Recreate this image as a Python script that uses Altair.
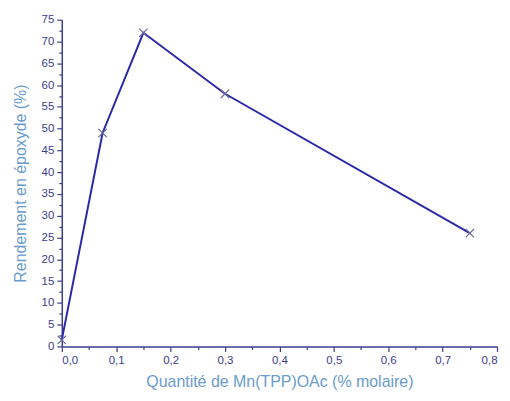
import altair as alt
import pandas as pd

quantite = [0.0, 0.075, 0.15, 0.3, 0.75]
rendement = [1.5, 49, 72, 58, 26]

x_major = [0, 0.1, 0.2, 0.3, 0.4, 0.5, 0.6, 0.7, 0.8]
x_minor = [0.05, 0.15, 0.25, 0.35, 0.45, 0.55, 0.65, 0.75]
y_major = list(range(0, 80, 5))
y_minor = [2.5 + 5 * i for i in range(15)]

df = pd.DataFrame({"q": quantite, "r": rendement})

axis_col = "#3d3d8f"
title_col = "#6a9bcc"
font = "Liberation Sans"

xs = alt.Scale(domain=[0, 0.8], nice=False, zero=False)
ys = alt.Scale(domain=[0, 75], nice=False)

x = alt.X("q:Q", scale=xs,
          axis=alt.Axis(title="Quantité de Mn(TPP)OAc (% molaire)", orient="bottom",
                        values=x_major,
                        labelExpr="replace(format(datum.value, '.1f'), '.', ',')",
                        grid=False, domainColor=axis_col, domainWidth=1.5,
                        tickColor=axis_col, tickSize=5, tickWidth=1.2,
                        labelColor=axis_col, labelFontSize=11.5, labelFont=font,
                        labelPadding=3,
                        titleColor=title_col, titleFontSize=16, titleFont=font,
                        titleFontWeight="normal", titlePadding=8))
y = alt.Y("r:Q", scale=ys,
          axis=alt.Axis(title="Rendement en époxyde (%)", orient="left",
                        values=y_major,
                        grid=False, domainColor=axis_col, domainWidth=1.5,
                        tickColor=axis_col, tickSize=5, tickWidth=1.2,
                        labelColor=axis_col, labelFontSize=11.5, labelFont=font,
                        labelPadding=3,
                        titleColor=title_col, titleFontSize=16, titleFont=font,
                        titleFontWeight="normal", titlePadding=13))

xm = alt.X("q:Q", scale=xs,
           axis=alt.Axis(title=None, orient="bottom", values=x_minor, labels=False,
                         grid=False, domain=False, tickColor=axis_col, tickSize=3,
                         tickWidth=1.2))
ym = alt.Y("r:Q", scale=ys,
           axis=alt.Axis(title=None, orient="left", values=y_minor, labels=False,
                         grid=False, domain=False, tickColor=axis_col, tickSize=3,
                         tickWidth=1.2))

minor = alt.Chart(df).mark_point(opacity=0).encode(x=xm, y=ym)
line = alt.Chart(df).mark_line(color="#2a2aa8", strokeWidth=2).encode(x=x, y=y)
pts = alt.Chart(df).mark_point(shape="M-1,-1L1,1M-1,1L1,-1", size=70, filled=False,
                               color="#6a6a9a", strokeWidth=1.2, opacity=1).encode(
    x=alt.X("q:Q", scale=xs, axis=None), y=alt.Y("r:Q", scale=ys, axis=None))

chart = alt.layer(minor, line, pts).resolve_axis(x="independent", y="independent").properties(
    width=437, height=328,
    autosize=alt.AutoSizeParams(type="none"),
    padding={"left": 54, "top": 11, "right": 5, "bottom": 50},
).configure_view(stroke=None)

chart.save("out.html", embed_options={"renderer": "svg", "actions": False})
